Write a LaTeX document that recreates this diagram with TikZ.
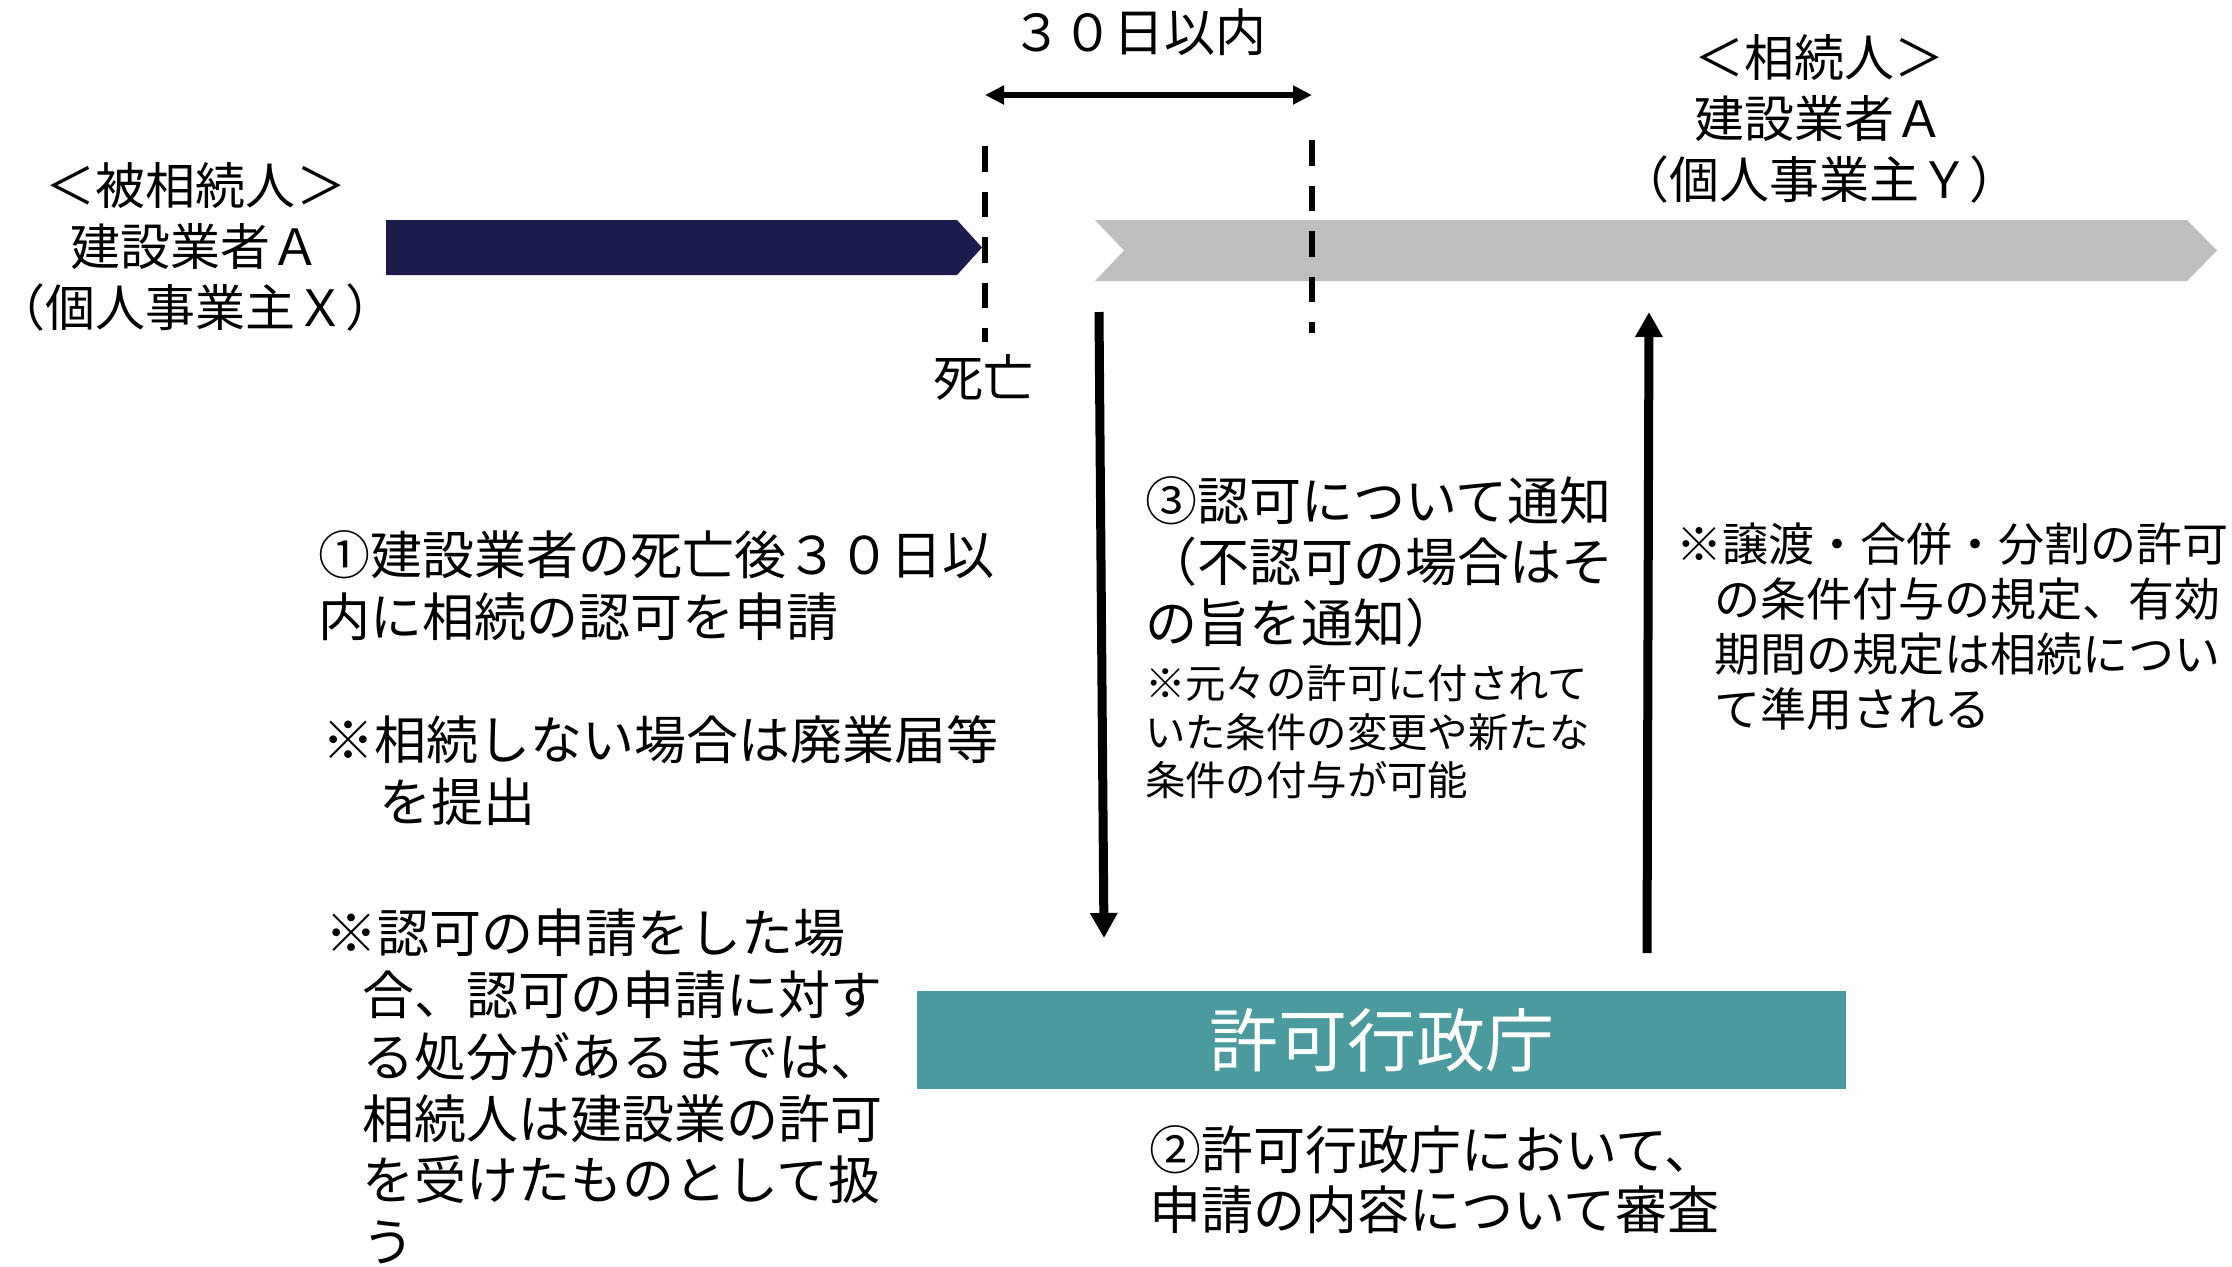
\documentclass[tikz,border=0pt]{standalone}
\usepackage{fontspec}
\setmainfont{Noto Sans CJK JP}
\usetikzlibrary{arrows.meta}
\definecolor{navy}{RGB}{28,27,77}
\definecolor{bargray}{RGB}{191,191,191}
\definecolor{tealbox}{RGB}{74,154,160}
\newcommand\fsz[2]{\fontsize{#1pt}{#2pt}\selectfont}
\newcommand\fstrut{\rule{0pt}{0.88em}}
\begin{document}
\begin{tikzpicture}[x=0.5pt,y=-0.5pt,
  txt/.style={inner sep=0pt,outer sep=0pt,anchor=north west,align=left},
  lbl/.style={inner sep=0pt,outer sep=0pt,anchor=north,align=center,font={\fsz{25}{30.5}}},
  mainfs/.style={font={\fsz{26}{31}}},
  varrow/.style={line width=4.5pt,-{Triangle[length=12.5pt,width=13pt]}},
  harrow/.style={line width=3pt,{Triangle[length=9.5pt,width=9pt]}-{Triangle[length=9.5pt,width=9pt]}},
  dline/.style={line width=3pt,dash pattern=on 12.75pt off 10pt}]
\useasboundingbox (0,0) rectangle (2232,1266);

% timeline bars
\fill[navy] (386,220) -- (957,220) -- (982,247.5) -- (957,275) -- (386,275) -- cycle;
\fill[bargray] (1095,220) -- (2187,220) -- (2217,250.5) -- (2187,281) -- (1095,281) -- (1124,250.5) -- cycle;

% dashed markers
\coordinate (dA1) at (985,146);
\coordinate (dA2) at (985,342);
\coordinate (dB1) at (1312,140);
\coordinate (dB2) at (1312,333);
\draw[dline] (dA1) -- (dA2);
\draw[dline] (dB1) -- (dB2);

% 30 days arrow
\coordinate (hL) at (985,95);
\coordinate (hR) at (1312,95);
\draw[harrow] (hL) -- (hR);
\node[lbl,font={\fsz{25.5}{31}}] (days) at (1139,7) {{\fstrut}３０日以内};

% labels
\node[lbl] (hisou) at (196,160) {{\fstrut}＜被相続人＞\\建設業者Ａ\\（個人事業主Ｘ）};
\node[lbl] (souzoku) at (1819,32) {{\fstrut}＜相続人＞\\建設業者Ａ\\（個人事業主Ｙ）};
\node[lbl] (death) at (983,352) {{\fstrut}死亡};

% left texts
\node[txt,mainfs] (step1) at (318,529) {{\fstrut}①建設業者の死亡後３０日以\\内に相続の認可を申請};
\node[txt,mainfs] (note1) at (322,714) {{\fstrut}※相続しない場合は廃業届等\\\hspace*{1.1em}を提出};
\node[txt,font={\fsz{26}{30.9}}] (note2) at (325,907) {{\fstrut}※認可の申請をした場\\\hspace*{0.72em}合、認可の申請に対す\\\hspace*{0.72em}る処分があるまでは、\\\hspace*{0.72em}相続人は建設業の許可\\\hspace*{0.72em}を受けたものとして扱\\\hspace*{0.72em}う};

% middle texts
\node[txt,font={\fsz{26}{30.5}}] (step3) at (1145,475) {{\fstrut}③認可について通知\\（不認可の場合はそ\\の旨を通知）};
\node[txt,font={\fsz{20.2}{24.25}}] (note3) at (1145,663) {{\fstrut}※元々の許可に付されて\\いた条件の変更や新たな\\条件の付与が可能};

% right text
\node[txt,font={\fsz{23}{27.5}}] (note4) at (1676,521) {{\fstrut}※譲渡・合併・分割の許可\\\hspace*{0.83em}の条件付与の規定、有効\\\hspace*{0.83em}期間の規定は相続につい\\\hspace*{0.83em}て準用される};

% authority box
\node[fill=tealbox,inner sep=0pt,minimum width=464.5pt,minimum height=49pt,text=white,font={\fsz{34.5}{40}}] (auth) at (1381.5,1040) {許可行政庁};
\node[txt,font={\fsz{26}{30}}] (step2) at (1149,1124) {{\fstrut}②許可行政庁において、\\申請の内容について審査};

% vertical arrows
\coordinate (dnTop) at (1099,312);
\coordinate (dnTip) at (1104,938);
\coordinate (upBot) at (1647,953);
\coordinate (upTip) at (1649,312);
\draw[varrow] (dnTop) -- (dnTip);
\draw[varrow] (upBot) -- (upTip);
\end{tikzpicture}
\end{document}
